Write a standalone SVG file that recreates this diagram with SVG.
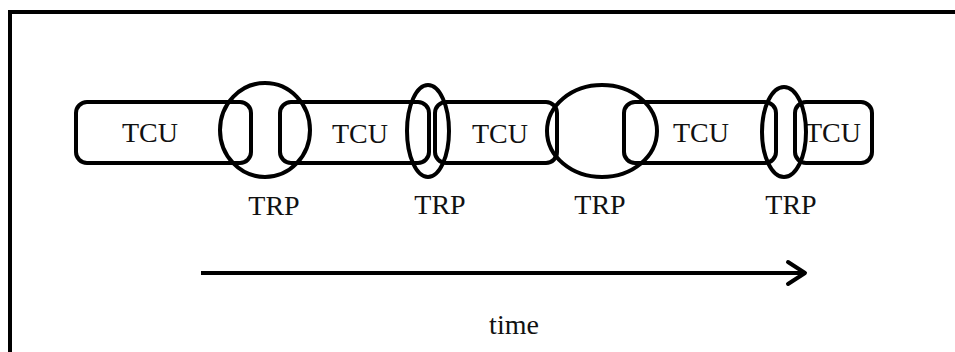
<svg xmlns="http://www.w3.org/2000/svg" width="955" height="352" viewBox="0 0 955 352">
<defs>
<style>
.box{fill:none;stroke:#000;stroke-width:4}
.trp{fill:none;stroke:#000;stroke-width:4}
.lbl{font-family:"Liberation Serif","Times New Roman",serif;font-size:28px;fill:#111;text-anchor:middle}
.time{font-family:"Liberation Serif","Times New Roman",serif;font-size:28px;fill:#111;text-anchor:middle}
.frame{fill:none;stroke:#000;stroke-width:4}
</style>
<marker id="arrow" viewBox="0 0 24 28" refX="20" refY="14" markerWidth="24" markerHeight="28" markerUnits="userSpaceOnUse" orient="auto">
<path d="M3,3 L20,14 L3,25" fill="none" stroke="#000" stroke-width="4" stroke-linecap="round" stroke-linejoin="round"/>
</marker>
</defs>
<rect width="955" height="352" fill="#fff"/>
<path class="frame" d="M10,352 V12 H955"/>
<g id="tcu1"><rect class="box" x="76" y="102" width="175" height="61" rx="11"/><text class="lbl" x="150" y="142">TCU</text></g>
<g id="tcu2"><rect class="box" x="280" y="102" width="149" height="61" rx="11"/><text class="lbl" x="360" y="143">TCU</text></g>
<g id="tcu3"><rect class="box" x="435" y="102" width="122" height="61" rx="11"/><text class="lbl" x="500" y="143">TCU</text></g>
<g id="tcu4"><rect class="box" x="624" y="102" width="152" height="61" rx="11"/><text class="lbl" x="701" y="142">TCU</text></g>
<g id="tcu5"><rect class="box" x="795" y="102" width="77" height="61" rx="11"/><text class="lbl" x="833" y="142">TCU</text></g>
<g id="trp1"><ellipse class="trp" cx="265" cy="130" rx="45" ry="47"/><text class="lbl" x="274" y="215">TRP</text></g>
<g id="trp2"><ellipse class="trp" cx="428" cy="131" rx="21" ry="46"/><text class="lbl" x="440" y="214">TRP</text></g>
<g id="trp3"><ellipse class="trp" cx="602" cy="131" rx="55" ry="46"/><text class="lbl" x="600" y="214">TRP</text></g>
<g id="trp4"><ellipse class="trp" cx="784" cy="132" rx="22" ry="45"/><text class="lbl" x="791" y="214">TRP</text></g>
<g id="connectors">
<line x1="201" y1="273" x2="805" y2="273" stroke="#000" stroke-width="4" marker-end="url(#arrow)"/>
</g>
<g id="time-label"><text class="time" x="514" y="334">time</text></g>
</svg>
